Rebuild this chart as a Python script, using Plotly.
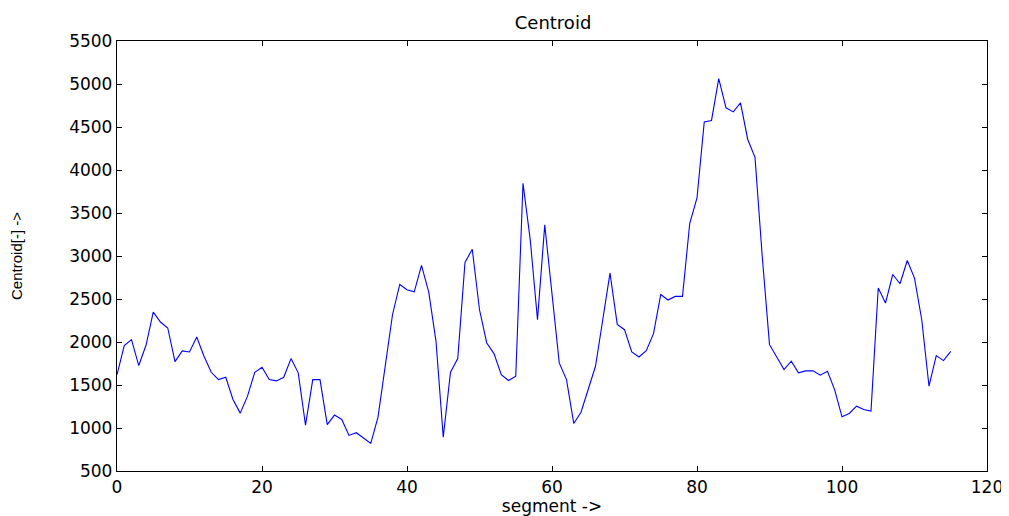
import plotly.graph_objects as go

# segment index and centroid value
segment = list(range(116))
centroid = [
    1620, 1958, 2027, 1726, 1962, 2348, 2232, 2163, 1772, 1896,
    1884, 2058, 1834, 1648, 1563, 1590, 1331, 1173, 1370, 1648,
    1706, 1563, 1548, 1590, 1807, 1641, 1034, 1563, 1563, 1039,
    1150, 1099, 914, 945, 883, 821, 1126, 1718, 2317, 2669,
    2608, 2584, 2890, 2580, 2008, 894, 1648, 1807, 2925, 3079,
    2375, 1989, 1865, 1621, 1552, 1602, 3845, 3187, 2259, 3362,
    2569, 1757, 1563, 1053, 1184, 1440, 1718, 2259, 2801, 2205,
    2143, 1884, 1826, 1900, 2097, 2553, 2488, 2530, 2530, 3381,
    3675, 4560, 4576, 5063, 4723, 4676, 4781, 4355, 4147, 2994,
    1969, 1826, 1679, 1776, 1641, 1664, 1664, 1614, 1660, 1440,
    1130, 1169, 1254, 1215, 1196, 2627, 2453, 2785, 2677, 2948,
    2743, 2259, 1486, 1842, 1784, 1892,
]

x_ticks = [0, 20, 40, 60, 80, 100, 120]
y_ticks = [500, 1000, 1500, 2000, 2500, 3000, 3500, 4000, 4500, 5000, 5500]

fig = go.Figure(go.Scatter(x=segment, y=centroid, mode='lines',
                           line=dict(color='#0000ff', width=1.1)))

axis_style = dict(showline=True, linecolor='black', linewidth=1.3, mirror='ticks',
                  ticks='inside', ticklen=5, tickcolor='black', tickwidth=1,
                  showgrid=False, zeroline=False, automargin=False,
                  tickfont=dict(family='DejaVu Sans', size=17, color='black'))

# the page body adds an 8px offset, so the figure is sized a bit smaller
fig.update_layout(
    width=1001, height=508,
    margin=dict(l=109, r=22, t=33, b=45),
    paper_bgcolor='white', plot_bgcolor='white',
    showlegend=False,
    title=dict(text='Centroid', x=0.5445, xanchor='center', y=0.972, yanchor='middle',
               font=dict(family='DejaVu Sans', size=18, color='black')),
)
fig.update_xaxes(range=[0, 120], tickvals=x_ticks, **axis_style,
                 title=dict(text='segment ->', standoff=8,
                            font=dict(family='DejaVu Sans', size=17, color='black')))
fig.update_yaxes(range=[500, 5500], tickvals=y_ticks, **axis_style,
                 title=dict(text='Centroid[-] ->', standoff=42,
                            font=dict(family='Liberation Sans', size=15, color='black')))

fig.write_html("out.html")
